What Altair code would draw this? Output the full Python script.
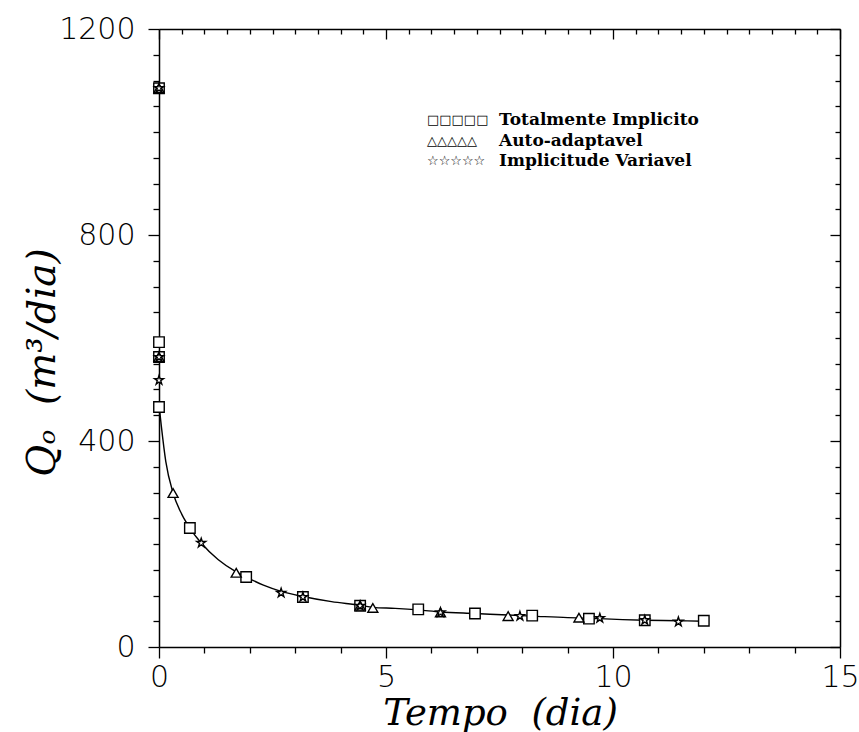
import altair as alt
import pandas as pd

# ---- data ----
sq_x = [0.0, 0.0, 0.0, 0.0, 0.68, 1.92, 3.17, 4.43, 5.71, 6.96, 8.22, 9.47, 10.70, 12.00]
sq_y = [1085, 592, 563, 466, 231, 136, 97, 80, 73, 65, 61, 55, 52, 51]

tri_x = [0.0, 0.0, 0.31, 1.70, 4.43, 4.71, 6.20, 7.69, 9.25]
tri_y = [1085, 563, 299, 144, 80, 76, 67, 60, 57]

star_x = [0.0, 0.0, 0.0, 0.93, 2.69, 3.17, 4.43, 6.20, 7.95, 9.71, 10.70, 11.44]
star_y = [1085, 563, 518, 202, 105, 97, 80, 67, 60, 56, 52, 49]

line_x = [0.0, 0.05, 0.15, 0.31, 0.5, 0.68, 0.93, 1.3, 1.70, 1.92, 2.3, 2.69, 3.17,
          3.8, 4.43, 4.71, 5.2, 5.71, 6.20, 6.96, 7.69, 8.22, 9.0, 9.47, 9.71,
          10.70, 11.44, 12.0]
line_y = [470, 430, 360, 299, 258, 231, 202, 170, 146, 136, 120, 108, 98,
          88, 81, 77, 75, 72, 68, 65, 62, 60, 57, 56, 55,
          52, 51, 50]

series_names = ["Totalmente Implicito", "Auto-adaptavel", "Implicitude Variavel"]
legend_glyphs = ["□□□□□", "△△△△△", "☆☆☆☆☆"]

x_ticks = [i * 0.5 for i in range(31)]
y_ticks = [i * 50 for i in range(25)]

# ---- tables ----
pts = pd.concat([
    pd.DataFrame({"t": sq_x, "q": sq_y, "s": series_names[0]}),
    pd.DataFrame({"t": tri_x, "q": tri_y, "s": series_names[1]}),
    pd.DataFrame({"t": star_x, "q": star_y, "s": series_names[2]}),
])
line_df = pd.DataFrame({"t": line_x, "q": line_y})

W, H = 681, 618
STAR = ("M0,-1L0.2245,-0.309L0.951,-0.309L0.363,0.118L0.588,0.809L0,0.382"
        "L-0.588,0.809L-0.363,0.118L-0.951,-0.309L-0.2245,-0.309Z")

xscale = alt.Scale(domain=[0, 15], nice=False, zero=False)
yscale = alt.Scale(domain=[0, 1200], nice=False)

TICKFONT = "DejaVu Sans"
TITLEFONT = "DejaVu Serif"
NB = "\u00a0"

x_axis_main = alt.Axis(
    values=x_ticks, orient="bottom", grid=False, format="d",
    tickSize={"condition": {"test": "datum.value % 5 === 0", "value": 11}, "value": 6},
    labelExpr="datum.value % 5 === 0 ? datum.label : ''",
    labelFont=TICKFONT, labelFontWeight=200, labelFontSize=30, labelColor="black",
    labelPadding=4, labelFlush=False, labelOverlap=False,
    domainColor="black", domainWidth=1.5, tickColor="black", tickWidth=1.3,
    title=f"Tempo{NB}{NB}(dia)", titleFont=TITLEFONT, titleFontStyle="italic",
    titleFontWeight="normal", titleFontSize=37, titleColor="black",
    titleX=341, titleY=66, titleBaseline="middle",
)
y_axis_main = alt.Axis(
    values=y_ticks, orient="left", grid=False, format="d",
    tickSize={"condition": {"test": "datum.value % 400 === 0", "value": 11}, "value": 6},
    labelExpr="datum.value % 400 === 0 ? datum.label : ''",
    labelFont=TICKFONT, labelFontWeight=200, labelFontSize=30, labelColor="black",
    labelPadding=13, labelFlush=False, labelOverlap=False,
    domainColor="black", domainWidth=1.5, tickColor="black", tickWidth=1.3,
    title=f"Qₒ{NB}{NB}(m³/dia)", titleFont=TITLEFONT, titleFontStyle="italic",
    titleFontWeight="normal", titleFontSize=39, titleColor="black",
    titleX=-117, titleY=333, titleBaseline="middle", titleAngle=-90,
)
x_axis_top = alt.Axis(
    values=x_ticks, orient="bottom", offset=-H, grid=False, labels=False, title=None,
    tickSize={"condition": {"test": "datum.value % 5 === 0", "value": 10}, "value": 5},
    domainColor="black", domainWidth=1.5, tickColor="black", tickWidth=1.3,
)
y_axis_right = alt.Axis(
    values=y_ticks, orient="left", offset=-W, grid=False, labels=False, title=None,
    tickSize={"condition": {"test": "datum.value % 400 === 0", "value": 10}, "value": 5},
    domainColor="black", domainWidth=1.5, tickColor="black", tickWidth=1.3,
)

line = alt.Chart(line_df).mark_line(
    color="black", strokeWidth=1.4, interpolate="monotone"
).encode(
    x=alt.X("t:Q", scale=xscale, axis=x_axis_main),
    y=alt.Y("q:Q", scale=yscale, axis=y_axis_main),
)

points = alt.Chart(pts).mark_point(
    filled=False, color="black", strokeWidth=1.4, opacity=1, fill="white", fillOpacity=1
).encode(
    x=alt.X("t:Q", scale=xscale, axis=x_axis_top),
    y=alt.Y("q:Q", scale=yscale, axis=y_axis_right),
    shape=alt.Shape("s:N", scale=alt.Scale(domain=series_names,
                                            range=["square", "triangle-up", STAR]),
                    legend=None),
    size=alt.Size("s:N", scale=alt.Scale(domain=series_names, range=[110, 90, 140]),
                  legend=None),
)

legend_layers = []
for i, (name, glyph) in enumerate(zip(series_names, legend_glyphs)):
    ly = 91 + i * 20.5
    g = alt.Chart(pd.DataFrame({"g": [glyph]})).mark_text(
        font="DejaVu Sans", fontSize=13, align="left", baseline="middle", color="black"
    ).encode(x=alt.value(268), y=alt.value(ly), text="g:N")
    t = alt.Chart(pd.DataFrame({"l": [name]})).mark_text(
        font="DejaVu Serif", fontWeight="bold", fontSize=17, align="left",
        baseline="middle", color="black"
    ).encode(x=alt.value(340), y=alt.value(ly), text="l:N")
    legend_layers += [g, t]

chart = alt.layer(line, points, *legend_layers).resolve_axis(
    x="independent", y="independent"
).properties(
    width=W, height=H,
    autosize=alt.AutoSizeParams(type="none"),
    padding={"left": 159, "top": 29, "right": 19, "bottom": 85},
    background="white",
).configure_view(stroke=None)

chart.save("out.html", embed_options={"renderer": "svg", "actions": False})
